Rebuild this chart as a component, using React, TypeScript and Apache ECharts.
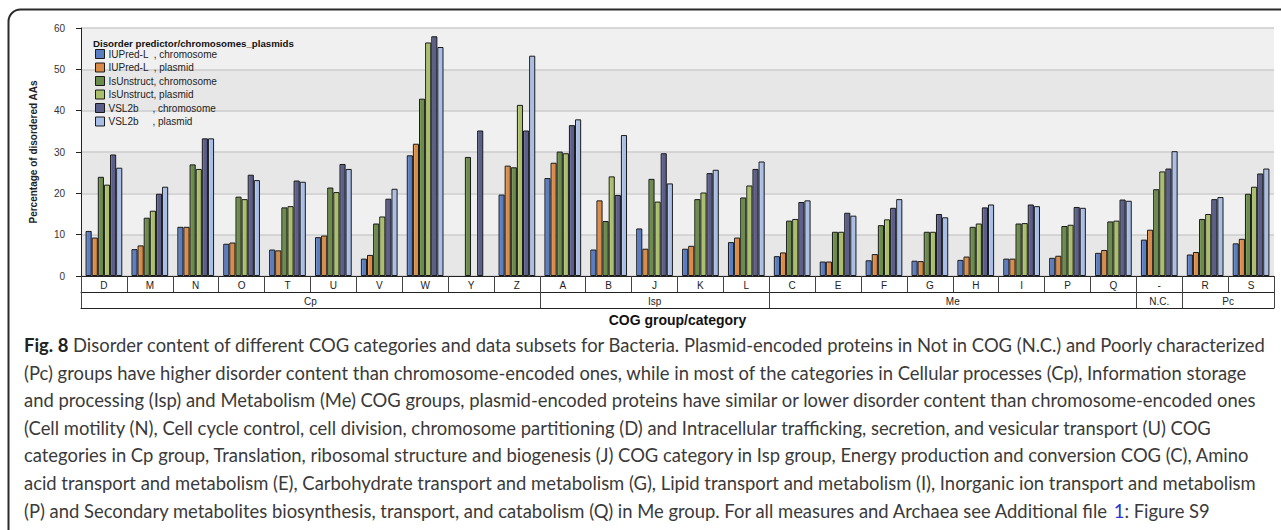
import React, { useEffect, useRef } from 'react';
import * as echarts from 'echarts';

const categories = ['D', 'M', 'N', 'O', 'T', 'U', 'V', 'W', 'Y', 'Z', 'A', 'B', 'J', 'K', 'L', 'C', 'E', 'F', 'G', 'H', 'I', 'P', 'Q', '-', 'R', 'S'];
const groupNames = ['Cp', 'Isp', 'Me', 'N.C.', 'Pc'];
const groupSizes = [10, 5, 8, 1, 2];

const seriesNames = [
  'IUPred-L  , chromosome',
  'IUPred-L  , plasmid',
  'IsUnstruct, chromosome',
  'IsUnstruct, plasmid',
  'VSL2b     , chromosome',
  'VSL2b     , plasmid',
];

const iupredChromosome = [10.9, 6.5, 11.9, 7.8, 6.4, 9.4, 4.2, 29.2, null, 19.7, 23.7, 6.4, 11.5, 6.6, 8.2, 4.8, 3.5, 3.8, 3.7, 3.9, 4.2, 4.4, 5.6, 8.8, 5.2, 7.9];
const iupredPlasmid = [9.3, 7.4, 11.9, 8.1, 6.2, 9.8, 5.1, 32.0, null, 26.7, 27.4, 18.3, 6.6, 7.3, 9.3, 5.7, 3.5, 5.3, 3.6, 4.7, 4.2, 4.9, 6.3, 11.2, 5.8, 9.0];
const isunstructChromosome = [24.0, 14.1, 27.0, 19.2, 16.6, 21.4, 12.7, 42.9, 28.8, 26.3, 30.1, 13.3, 23.5, 18.6, 19.0, 13.4, 10.7, 12.3, 10.7, 11.9, 12.7, 12.1, 13.2, 21.0, 13.8, 19.9];
const isunstructPlasmid = [22.1, 15.8, 25.9, 18.6, 16.9, 20.3, 14.4, 56.5, null, 41.4, 29.7, 24.1, 18.0, 20.2, 21.9, 13.8, 10.7, 13.7, 10.7, 12.7, 12.8, 12.4, 13.4, 25.3, 15.0, 21.6];
const vsl2bChromosome = [29.4, 19.9, 33.3, 24.5, 23.1, 27.1, 18.7, 58.0, 35.2, 35.2, 36.5, 19.6, 29.7, 24.9, 25.9, 17.9, 15.3, 16.5, 15.0, 16.6, 17.3, 16.7, 18.5, 26.0, 18.6, 24.8];
const vsl2bPlasmid = [26.2, 21.6, 33.3, 23.2, 22.8, 25.9, 21.1, 55.4, null, 53.3, 37.9, 34.1, 22.4, 25.7, 27.7, 18.3, 14.6, 18.6, 14.2, 17.3, 16.9, 16.5, 18.2, 30.2, 19.1, 26.0];

const yTicks = [0, 10, 20, 30, 40, 50, 60];

const captionLines = [
  '{b|Fig. 8} Disorder content of different COG categories and data subsets for Bacteria. Plasmid-encoded proteins in Not in COG (N.C.) and Poorly characterized',
  '(Pc) groups have higher disorder content than chromosome-encoded ones, while in most of the categories in Cellular processes (Cp), Information storage',
  'and processing (Isp) and Metabolism (Me) COG groups, plasmid-encoded proteins have similar or lower disorder content than chromosome-encoded ones',
  '(Cell motility (N), Cell cycle control, cell division, chromosome partitioning (D) and Intracellular trafficking, secretion, and vesicular transport (U) COG',
  'categories in Cp group, Translation, ribosomal structure and biogenesis (J) COG category in Isp group, Energy production and conversion COG (C), Amino',
  'acid transport and metabolism (E), Carbohydrate transport and metabolism (G), Lipid transport and metabolism (I), Inorganic ion transport and metabolism',
  '(P) and Secondary metabolites biosynthesis, transport, and catabolism (Q) in Me group. For all measures and Archaea see Additional file {l|1}: Figure S9',
];

const seriesData = [iupredChromosome, iupredPlasmid, isunstructChromosome, isunstructPlasmid, vsl2bChromosome, vsl2bPlasmid];
const baseColors = ['#5a7cc0', '#d98b47', '#6a8b4b', '#a9bf6c', '#5a5e89', '#a9bee6'];
const lightColors = ['#8fa9de', '#f2b883', '#94b472', '#cddd98', '#8a8eb5', '#d0dcf5'];

const CHART_FONT = '"Liberation Sans", Arial, sans-serif';
const CAPTION_FONT = 'Lato, "Open Sans", sans-serif';

function measure(text: string, font: string): number {
  const c = document.createElement('canvas').getContext('2d');
  if (!c) return 0;
  c.font = font;
  return c.measureText(text).width;
}

export default function App() {
  const ref = useRef<HTMLDivElement>(null);
  useEffect(() => {
    document.body.style.margin = '0';
    if (!ref.current) return;
    const chart = echarts.init(ref.current, undefined, { renderer: 'svg' });

    const bounds: number[] = [0];
    groupSizes.forEach((s) => bounds.push(bounds[bounds.length - 1] + s));
    const centers = groupSizes.map((s, i) => bounds[i] + s / 2);

    const testSize = 16;
    const w1 =
      measure('Fig. 8', `bold ${testSize}px ${CAPTION_FONT}`) +
      measure(captionLines[0].replace('{b|Fig. 8}', ''), `${testSize}px ${CAPTION_FONT}`);
    let fs = w1 > 0 ? (testSize * 1243) / w1 : 16.5;
    fs = Math.max(14, Math.min(19, fs));

    const captionEls = captionLines.map((t, i) => ({
      type: 'text',
      x: 24,
      y: 345 + i * 27.6,
      z: 100,
      style: {
        text: t,
        fill: '#3a3a3a',
        fontSize: fs,
        fontFamily: CAPTION_FONT,
        verticalAlign: 'middle',
        rich: {
          b: { fontWeight: 'bold', fontSize: fs, fontFamily: CAPTION_FONT, fill: '#222' },
          l: { fontSize: fs, fontFamily: CAPTION_FONT, fill: '#2a35d8' },
        },
      },
    }));

    const option: any = {
      animation: false,
      backgroundColor: '#ffffff',
      grid: { left: 81, right: 7, top: 28, bottom: 254, containLabel: false },
      legend: {
        orient: 'vertical',
        left: 95,
        top: 49,
        padding: 0,
        itemWidth: 9,
        itemHeight: 9,
        itemGap: 3.5,
        icon: 'rect',
        z: 10,
        textStyle: { fontSize: 10, color: '#222', fontFamily: CHART_FONT, padding: [0, 0, 0, -1] },
        data: seriesNames.map((n, i) => ({
          name: n,
          itemStyle: { color: baseColors[i], borderColor: '#1a1a1a', borderWidth: 1 },
        })),
      },
      xAxis: [
        {
          type: 'category',
          data: categories,
          position: 'bottom',
          axisLine: { show: true, lineStyle: { color: '#222', width: 1 } },
          axisTick: { show: true, length: 16, interval: 0, lineStyle: { color: '#444', width: 1 } },
          axisLabel: { interval: 0, fontSize: 10, color: '#222', margin: 4, fontFamily: CHART_FONT },
          splitLine: { show: false },
        },
        {
          type: 'value',
          min: 0,
          max: 26,
          position: 'bottom',
          offset: 16,
          axisLine: { show: true, lineStyle: { color: '#222', width: 1 } },
          axisTick: { show: true, length: 16, customValues: bounds, lineStyle: { color: '#444', width: 1 } },
          axisLabel: {
            show: true,
            customValues: centers,
            fontSize: 10,
            color: '#222',
            margin: 4,
            fontFamily: CHART_FONT,
            formatter: (v: number) => {
              const i = centers.findIndex((c) => Math.abs(c - v) < 1e-6);
              return i >= 0 ? groupNames[i] : '';
            },
          },
          splitLine: { show: false },
        },
        {
          type: 'value',
          min: 0,
          max: 26,
          position: 'bottom',
          offset: 32,
          axisLine: { show: true, lineStyle: { color: '#222', width: 1 } },
          axisTick: { show: false },
          axisLabel: { show: false },
          splitLine: { show: false },
          name: 'COG group/category',
          nameLocation: 'middle',
          nameGap: 5,
          nameTextStyle: { fontSize: 14, fontWeight: 'bold', color: '#111', fontFamily: CHART_FONT, verticalAlign: 'top' },
        },
      ],
      yAxis: {
        type: 'value',
        min: 0,
        max: 60,
        interval: 10,
        axisLine: { show: true, lineStyle: { color: '#222', width: 1 } },
        axisTick: { show: true, length: 5, lineStyle: { color: '#222' } },
        axisLabel: {
          fontSize: 10,
          color: '#333',
          margin: 16,
          fontFamily: CHART_FONT,
          formatter: (v: number) => (yTicks.includes(v) ? String(v) : ''),
        },
        splitLine: { show: true, lineStyle: { color: '#cdcdcd', width: 1.5 } },
        splitArea: { show: true, areaStyle: { color: ['#e7e7e7', '#f0f0f0'] } },
        name: 'Percentage of disordered AAs',
        nameLocation: 'middle',
        nameGap: 43,
        nameTextStyle: { fontSize: 10, fontWeight: 'bold', color: '#222', fontFamily: CHART_FONT },
      },
      series: seriesData.map((d, i) => ({
        name: seriesNames[i],
        type: 'bar',
        xAxisIndex: 0,
        data: d,
        barGap: '0%',
        barCategoryGap: '20%',
        itemStyle: {
          color: new echarts.graphic.LinearGradient(0, 0, 1, 0, [
            { offset: 0, color: lightColors[i] },
            { offset: 0.35, color: baseColors[i] },
            { offset: 1, color: baseColors[i] },
          ]),
          borderColor: '#1a1a1a',
          borderWidth: 1,
        },
        emphasis: { disabled: true },
      })),
      graphic: [
        {
          type: 'rect',
          z: 100,
          shape: { x: 8.5, y: 9.5, width: 1300, height: 560, r: 12 },
          style: { fill: 'none', stroke: '#2a2a2a', lineWidth: 2 },
          silent: true,
        },
        {
          type: 'text',
          x: 93,
          y: 43,
          z: 100,
          style: {
            text: 'Disorder predictor/chromosomes_plasmids',
            fill: '#111',
            fontSize: 9.7,
            fontWeight: 'bold',
            fontFamily: CHART_FONT,
            verticalAlign: 'middle',
          },
        },
        ...captionEls,
      ],
    };
    chart.setOption(option);
    return () => chart.dispose();
  }, []);

  return <div ref={ref} style={{ width: 1281, height: 530, overflow: 'hidden' }} />;
}
